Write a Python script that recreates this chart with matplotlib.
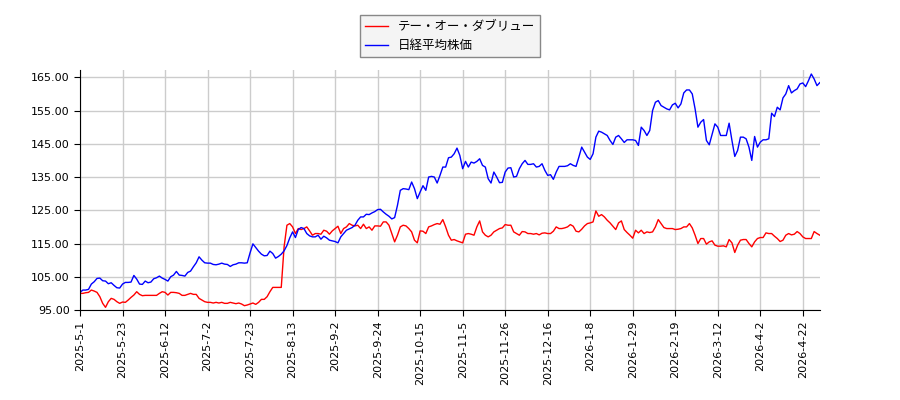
import matplotlib
matplotlib.use("Agg")
import matplotlib.pyplot as plt
from matplotlib.ticker import FormatStrFormatter

plt.rcParams['font.family'] = ['Noto Sans CJK JP', 'DejaVu Sans']

# DATOS (indice = dia de mercado)
tick_labels = ["2025-5-1", "2025-5-23", "2025-6-12", "2025-7-2", "2025-7-23",
               "2025-8-13", "2025-9-2", "2025-9-24", "2025-10-15", "2025-11-5",
               "2025-11-26", "2025-12-16", "2026-1-8", "2026-1-29", "2026-2-19",
               "2026-3-12", "2026-4-2", "2026-4-22"]

too = [
    100.0, 100.0, 100.2, 100.3, 101.0, 100.7, 100.3, 99.0, 97.0, 95.8,
    97.5, 98.5, 98.2, 97.5, 97.0, 97.4, 97.3, 98.0, 98.8, 99.5,
    100.5, 99.7, 99.3, 99.4, 99.4, 99.4, 99.4, 99.4, 100.0, 100.5,
    100.3, 99.5, 100.3, 100.3, 100.2, 100.0, 99.4, 99.4, 99.7, 100.0,
    99.7, 99.7, 98.5, 98.0, 97.5, 97.3, 97.3, 97.1, 97.3, 97.1,
    97.3, 97.0, 97.0, 97.3, 97.1, 96.9, 97.1, 96.8, 96.3, 96.5,
    96.8, 97.1, 96.7, 97.3, 98.2, 98.2, 99.0, 100.5, 101.8, 101.8,
    101.8, 101.8, 114.0, 120.5, 121.0, 120.0, 118.0, 119.5, 119.2, 119.5,
    120.0, 118.8, 117.5, 118.0, 118.0, 117.8, 119.0, 118.7, 117.8, 118.8,
    119.5, 120.2, 118.0, 119.5, 120.0, 121.0, 120.5, 120.3, 120.5, 119.5,
    120.8, 119.5, 120.0, 119.0, 120.3, 120.3, 120.2, 121.5, 121.5, 120.5,
    118.0, 115.5, 117.5, 120.0, 120.5, 120.3, 119.5, 118.5, 116.0, 115.2,
    118.8, 118.7, 118.0, 120.0, 120.3, 120.7, 121.0, 120.8, 122.2, 120.0,
    117.5, 116.0, 116.2, 115.8, 115.5, 115.2, 117.8, 118.0, 117.8, 117.5,
    120.0, 121.8, 118.5, 117.5, 117.0, 117.5, 118.5, 119.0, 119.5, 119.7,
    120.7, 120.5, 120.5, 118.5, 118.0, 117.5, 118.6, 118.5, 118.0, 118.0,
    117.8, 118.0, 117.6, 118.1, 118.2, 118.0, 118.0, 118.7, 120.0, 119.5,
    119.5, 119.7, 120.0, 120.7, 120.2, 118.7, 118.5, 119.3, 120.3, 121.0,
    121.2, 121.5, 124.8, 123.2, 123.7, 123.0, 122.0, 121.2, 120.2, 119.2,
    121.2, 121.8, 119.2, 118.3, 117.5, 116.6, 119.0, 118.2, 119.0, 118.0,
    118.5, 118.3, 118.5, 120.0, 122.2, 121.0, 119.8, 119.5, 119.5, 119.5,
    119.2, 119.3, 119.5, 120.0, 120.0, 121.0, 119.7, 117.5, 115.0, 116.5,
    116.5, 114.8, 115.5, 115.8, 114.5, 114.2, 114.2, 114.3, 114.0, 116.2,
    115.2, 112.3, 114.5, 116.0, 116.2, 116.2, 115.0, 114.0, 115.5, 116.5,
    116.8, 116.8, 118.2, 118.0, 118.0, 117.2, 116.5, 115.6, 116.0, 117.5,
    118.0, 117.6, 117.8, 118.6, 118.0, 117.0, 116.5, 116.5, 116.5, 118.6,
    118.0, 117.5,
]

nikkei = [
    100.3, 101.0, 101.0, 101.2, 102.8, 103.5, 104.5, 104.6, 103.8, 103.7,
    102.9, 103.2, 102.4, 101.7, 101.6, 102.8, 103.3, 103.3, 103.4, 105.4,
    104.3, 102.8, 102.7, 103.7, 103.2, 103.4, 104.4, 104.7, 105.2, 104.6,
    104.2, 103.7, 105.0, 105.5, 106.6, 105.5, 105.4, 105.2, 106.3, 106.7,
    108.0, 109.2, 111.0, 110.0, 109.2, 109.1, 109.1, 108.7, 108.6, 108.8,
    109.1, 108.8, 108.7, 108.1, 108.6, 108.8, 109.2, 109.2, 109.1, 109.2,
    112.2, 114.9, 113.8, 112.7, 111.8, 111.3, 111.4, 112.7, 112.0, 110.6,
    111.1, 111.8, 112.8, 114.4, 116.7, 118.5, 116.8, 119.2, 119.8, 119.5,
    118.0, 117.3, 117.0, 117.0, 117.5, 116.3, 117.2, 116.7, 116.0, 115.8,
    115.6, 115.2, 117.0, 118.0, 119.0, 119.4, 119.8, 120.5, 122.0, 123.0,
    123.0, 123.8, 123.7, 124.2, 124.6, 125.2, 125.3, 124.5, 123.8, 123.2,
    122.4, 122.8, 126.5, 131.0, 131.5, 131.4, 131.2, 133.5, 131.5, 128.5,
    130.5, 132.4, 131.0, 135.0, 135.2, 135.0, 133.2, 135.5, 138.0, 138.0,
    140.8, 141.0, 142.0, 143.7, 141.5, 137.5, 139.7, 138.0, 139.5, 139.2,
    139.7, 140.5, 138.5, 138.0, 134.5, 133.2, 136.5, 135.0, 133.3, 133.4,
    136.5, 137.7, 137.8, 135.0, 135.2, 137.5, 139.0, 140.0, 138.8, 138.8,
    139.0, 138.0, 138.2, 139.0, 137.0, 135.5, 135.7, 134.3, 136.5, 138.2,
    138.2, 138.2, 138.4, 139.0, 138.5, 138.2, 141.0, 144.0, 142.5, 141.0,
    140.3, 142.0, 147.0, 148.8, 148.5, 148.0, 147.5, 146.0, 144.8, 147.0,
    147.5, 146.5, 145.4, 146.2, 146.2, 146.2, 146.0, 144.5, 150.0, 149.0,
    147.5, 149.0, 155.0, 157.5, 158.0, 156.5, 156.0, 155.5, 155.2, 156.7,
    157.2, 155.8, 157.0, 160.3, 161.2, 161.2, 160.0, 155.5, 150.0, 151.5,
    152.3, 146.0, 144.7, 147.8, 151.0, 150.0, 147.5, 147.5, 147.5, 151.2,
    146.0, 141.2, 143.0, 147.0, 147.0, 146.5, 144.0, 140.0, 147.2, 144.0,
    145.5, 146.2, 146.2, 146.5, 154.2, 153.2, 156.0, 155.2, 158.8, 160.0,
    162.5, 160.3, 161.0, 161.5, 163.0, 163.3, 162.2, 164.0, 166.0, 164.5,
    162.5, 163.4,
]

x = list(range(len(too)))

fig = plt.figure(figsize=(9, 4), dpi=100)
ax = fig.add_axes([0.0889, 0.225, 0.822, 0.6])

ax.plot(x, too, color="red", linewidth=1.0, label="テー・オー・ダブリュー")
ax.plot(x, nikkei, color="blue", linewidth=1.0, label="日経平均株価")

ax.set_xlim(0, len(too) - 1)
ax.set_ylim(95, 167.2)
ax.set_yticks([95, 105, 115, 125, 135, 145, 155, 165])
ax.yaxis.set_major_formatter(FormatStrFormatter("%.2f"))
ax.set_xticks(list(range(0, 15 * len(tick_labels), 15)))
ax.set_xticklabels(tick_labels, rotation=90, family=["DejaVu Sans"])
for t in ax.get_yticklabels():
    t.set_family(["DejaVu Sans"])
ax.tick_params(labelsize=8, length=4)

ax.grid(True, color="#cccccc", linewidth=1.0)
ax.set_axisbelow(True)
ax.spines["top"].set_visible(False)
ax.spines["right"].set_visible(False)

fig.legend(loc="upper center", bbox_to_anchor=(0.5, 0.978), fontsize=9,
           fancybox=False, edgecolor="#888888", facecolor="#f4f4f4",
           framealpha=1.0, handlelength=1.8)

fig.savefig("out.png")
